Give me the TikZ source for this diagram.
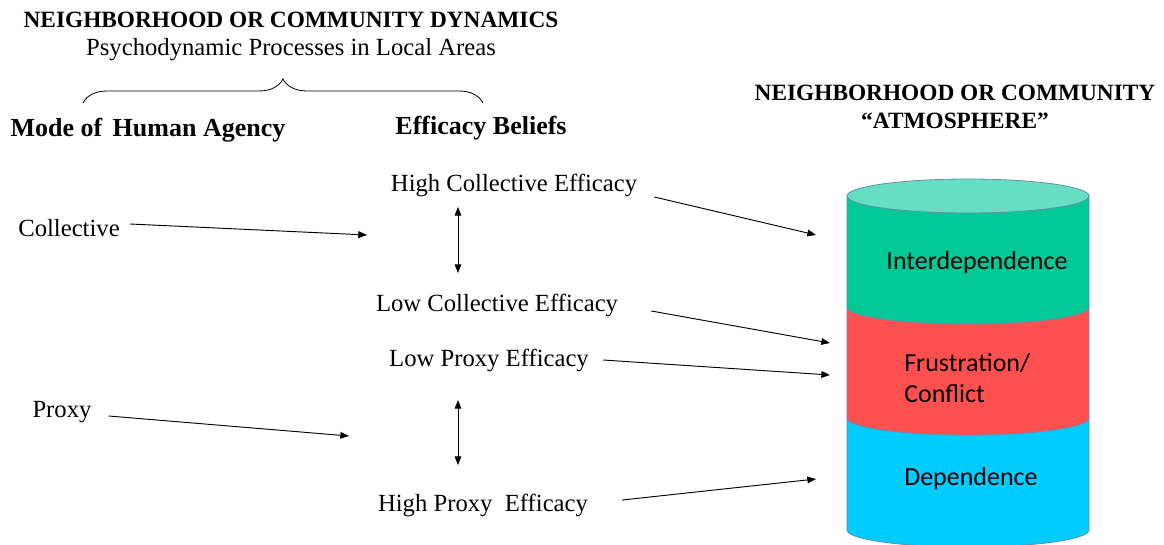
\documentclass[tikz,border=0pt]{standalone}
\usepackage{fontspec}
\setmainfont{Liberation Serif}
\newfontfamily\calibri{Carlito}
\usetikzlibrary{positioning, arrows.meta, decorations.pathreplacing}

\definecolor{interGreen}{RGB}{0,200,150}
\definecolor{capGreen}{RGB}{102,222,196}
\definecolor{conflictRed}{RGB}{255,80,80}
\definecolor{dependBlue}{RGB}{0,204,255}
\definecolor{rimLine}{RGB}{100,140,175}

\begin{document}
\begin{tikzpicture}[
        x=0.75pt, y=-0.75pt,
        txt/.style={font=\fontsize{18.5}{21}\selectfont, inner sep=0pt},
        head/.style={font=\bfseries\fontsize{17.5}{21}\selectfont, inner sep=0pt, align=center},
        colhead/.style={font=\bfseries\fontsize{19.5}{23}\selectfont, inner sep=0pt},
        inlayer/.style={font=\calibri\fontsize{19.5}{23}\selectfont, inner sep=0pt, align=left},
        layer/.style={draw=rimLine, line width=0.6pt},
        arrow/.style={-{Triangle[length=6.5pt, width=5pt]}, line width=0.7pt},
        twoway/.style={{Triangle[length=6.5pt, width=5pt]}-{Triangle[length=6.5pt, width=5pt]}, line width=0.7pt}
        ]
        \useasboundingbox (0,0) rectangle (1164,545);

        % headings
        \node[head] (dyn) at (291,20) {NEIGHBORHOOD OR COMMUNITY DYNAMICS};
        \node[txt] (sub) at (291,50) {Psychodynamic Processes in Local Areas};
        \draw[decorate, decoration={brace, amplitude=18pt}, line width=0.6pt] (83,103) -- (483,103);
        \node[colhead] (mode) at (148,130) {Mode of\hspace{0.4em}Human Agency};
        \node[colhead] (beliefs) at (481,128) {Efficacy Beliefs};
        \node[head] (atmo) at (955,107) {NEIGHBORHOOD OR COMMUNITY\\``ATMOSPHERE''};

        % agency and efficacy labels
        \node[txt] (col) at (69,228) {Collective};
        \node[txt] (prx) at (62,412) {Proxy};
        \node[txt] (hce) at (514,185) {High Collective Efficacy};
        \node[txt] (lce) at (497,305) {Low Collective Efficacy};
        \node[txt] (lpe) at (489,360) {Low Proxy Efficacy};
        \node[txt] (hpe) at (483,505) {High Proxy~ Efficacy};

        % arrow tips
        \coordinate (colTip) at (367,235);
        \coordinate (prxTip) at (349,436);
        \coordinate (interTip) at (816,235);
        \coordinate (lceTip) at (830,343);
        \coordinate (lpeTip) at (830,375);
        \coordinate (depTip) at (816,479);
        \coordinate (colUp) at (458,207);
        \coordinate (colDown) at (458,273);
        \coordinate (prxUp) at (458,400);
        \coordinate (prxDown) at (458,465);

        % atmosphere cylinder, bottom layer first
        \filldraw[layer, fill=dependBlue] (847,418) -- (847,530)
            arc[start angle=180, end angle=0, x radius=121, y radius=17] -- (1089,418) -- cycle;
        \filldraw[layer, fill=conflictRed] (847,307) -- (847,418)
            arc[start angle=180, end angle=0, x radius=121, y radius=17] -- (1089,307) -- cycle;
        \filldraw[layer, fill=interGreen] (847,196) -- (847,307)
            arc[start angle=180, end angle=0, x radius=121, y radius=17] -- (1089,196) -- cycle;
        \filldraw[layer, fill=capGreen] (968,196) ellipse[x radius=121, y radius=17];

        \node[inlayer] (inter) at (977,263) {Interdependence};
        \node[inlayer, anchor=west] (frus) at (904,378) {Frustration/\\Conflict};
        \node[inlayer, anchor=west] (dep) at (904,479) {Dependence};

        \draw[arrow] ([shift={(10,-4)}]col.east) -- (colTip);
        \draw[arrow] ([shift={(17,4)}]prx.east) -- (prxTip);
        \draw[arrow] ([shift={(17,12)}]hce.east) -- (interTip);
        \draw[arrow] ([shift={(33,6)}]lce.east) -- (lceTip);
        \draw[arrow] ([shift={(14,0)}]lpe.east) -- (lpeTip);
        \draw[arrow] ([shift={(34,-5)}]hpe.east) -- (depTip);
        \draw[twoway] (colUp) -- (colDown);
        \draw[twoway] (prxUp) -- (prxDown);
    \end{tikzpicture}
\end{document}
